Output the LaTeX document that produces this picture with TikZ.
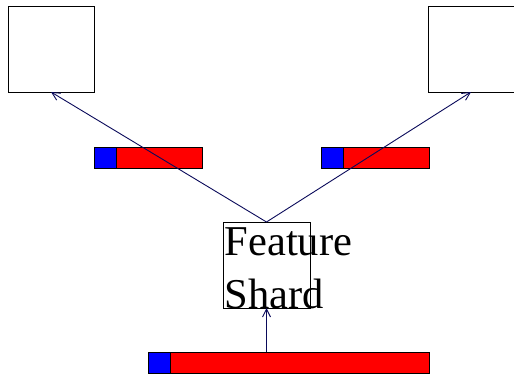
\documentclass[tikz,border=0pt]{standalone}
\usepackage{fontspec}
\setmainfont{Liberation Serif}
\usetikzlibrary{arrows.meta}
\begin{document}
\begin{tikzpicture}[x=1pt,y=1pt,
  box/.style={draw=black, line width=0.8pt, fill=white, inner sep=0pt, outer sep=0pt, minimum width=86pt, minimum height=86pt},
  bluebit/.style={draw=black, line width=0.8pt, fill=blue, inner sep=0pt, outer sep=0pt, minimum width=22pt, minimum height=21pt},
  redbit/.style={draw=black, line width=0.8pt, fill=red, inner sep=0pt, outer sep=0pt, minimum height=21pt},
  link/.style={draw={rgb,255:red,10;green,10;blue,90}, line width=0.9pt, -{Straight Barb[length=8pt,width=8pt]}}]
\useasboundingbox (0,0) rectangle (514,373);
% boxes
\node[box] (tl) at (51,324) {};
\node[box] (tr) at (471,324) {};
\node[box, minimum width=87pt, minimum height=86pt] (fs) at (266.5,108) {};
% bars
\node[bluebit] (lb) at (105,215.5) {};
\node[redbit, minimum width=86pt, anchor=west] (lr) at (lb.east) {};
\node[bluebit] (rb) at (332,215.5) {};
\node[redbit, minimum width=86pt, anchor=west] (rr) at (rb.east) {};
\node[bluebit] (bb) at (159,10.5) {};
\node[redbit, minimum width=259pt, anchor=west] (br) at (bb.east) {};
% text
\node[anchor=north west, inner sep=0pt, align=left, font=\fontsize{42.5}{53}\selectfont] (fst) at ([xshift=1.5pt,yshift=-5pt]fs.north west) {Feature\\Shard};
% connectors
\coordinate (bs) at (br.north -| fs.south);
\draw[link] (fs.north) -- (tl.south);
\draw[link] (fs.north) -- (tr.south);
\draw[link] (bs) -- (fs.south);
\end{tikzpicture}
\end{document}
